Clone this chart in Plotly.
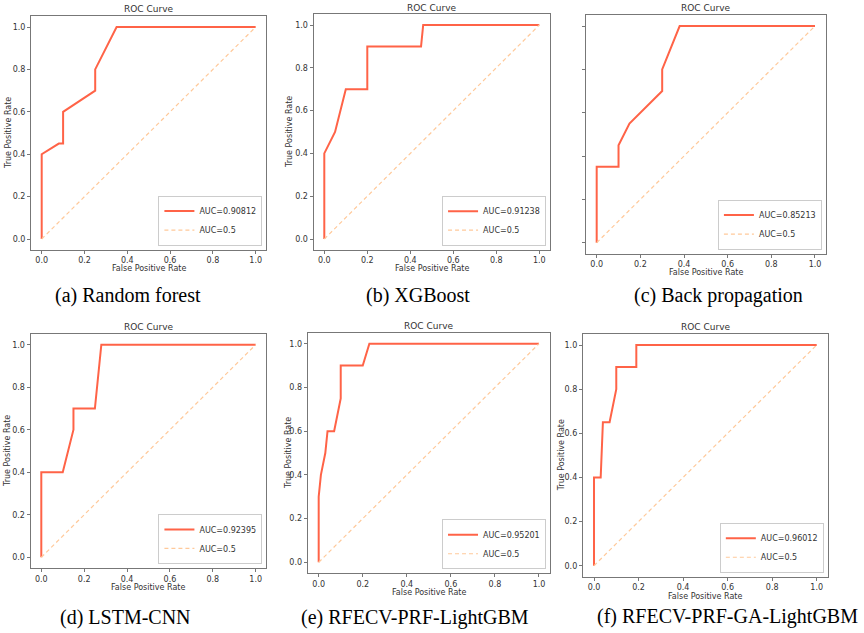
import plotly.graph_objects as go

W, H = 864, 633

# ---- data ----
models = ["Random forest", "XGBoost", "Back propagation", "LSTM-CNN",
          "RFECV-PRF-LightGBM", "RFECV-PRF-GA-LightGBM"]
letters = ["a", "b", "c", "d", "e", "f"]
auc_values = ["0.90812", "0.91238", "0.85213", "0.92395", "0.95201", "0.96012"]

fpr_rf = [0, 0, 0.08, 0.10, 0.10, 0.25, 0.25, 0.35, 1.0]
tpr_rf = [0, 0.40, 0.45, 0.45, 0.60, 0.70, 0.80, 1.0, 1.0]

fpr_xgb = [0, 0, 0.05, 0.10, 0.20, 0.20, 0.45, 0.46, 1.0]
tpr_xgb = [0, 0.40, 0.50, 0.70, 0.70, 0.90, 0.90, 1.0, 1.0]

fpr_bp = [0, 0, 0.10, 0.10, 0.15, 0.30, 0.30, 0.38, 1.0]
tpr_bp = [0, 0.35, 0.35, 0.45, 0.55, 0.70, 0.80, 1.0, 1.0]

fpr_lc = [0, 0, 0.10, 0.15, 0.15, 0.25, 0.28, 1.0]
tpr_lc = [0, 0.40, 0.40, 0.60, 0.70, 0.70, 1.0, 1.0]

fpr_rl = [0, 0, 0.01, 0.03, 0.04, 0.07, 0.10, 0.10, 0.20, 0.23, 1.0]
tpr_rl = [0, 0.30, 0.40, 0.50, 0.60, 0.60, 0.75, 0.90, 0.90, 1.0, 1.0]

fpr_rgl = [0, 0, 0.03, 0.04, 0.07, 0.10, 0.10, 0.19, 0.19, 1.0]
tpr_rgl = [0, 0.40, 0.40, 0.65, 0.65, 0.80, 0.90, 0.90, 1.0, 1.0]

fpr_list = [fpr_rf, fpr_xgb, fpr_bp, fpr_lc, fpr_rl, fpr_rgl]
tpr_list = [tpr_rf, tpr_xgb, tpr_bp, tpr_lc, tpr_rl, tpr_rgl]

diag_x = [0, 1]
diag_y = [0, 1]
tick_vals = [0.0, 0.2, 0.4, 0.6, 0.8, 1.0]
tick_text = ["0.0", "0.2", "0.4", "0.6", "0.8", "1.0"]

# ---- layout geometry (pixels): x of data 0 / 1, y of data 1 / 0 ----
geom = [
    (41.7, 255.7, 27.0, 239.0),
    (324.3, 539.3, 25.0, 239.0),
    (596.7, 815.0, 26.0, 242.7),
    (41.3, 255.7, 344.7, 557.3),
    (318.7, 539.0, 343.7, 562.3),
    (594.0, 816.7, 345.0, 565.7),
]
title_y = [9, 8, 8, 327, 326, 327]
xlab_y = [268.5, 268.5, 272.5, 587.5, 592.5, 596.5]
ylab_x = [8, 290, None, 8, 289, 561]
cap_pos = [(128, 295), (418, 295), (718, 295), (125, 617), (415, 617), (727, 616)]

FONT = "DejaVu Sans"
ROC_COLOR = "#FF6347"
DIAG_COLOR = "#FFC99A"
TXT = "#333333"
FRAME = "#777777"

def px(x):
    return x / W

def py(y):
    return 1 - y / H

fig = go.Figure()
annotations = []
layout_axes = {}
for i in range(6):
    x0, x1, y1, y0 = geom[i]
    wx = x1 - x0
    hy = y0 - y1
    L, R = x0 - 0.05 * wx, x1 + 0.05 * wx
    T, B = y1 - 0.05 * hy, y0 + 0.05 * hy
    n = "" if i == 0 else str(i + 1)
    xa, ya = "x" + n, "y" + n
    lg = "legend" + n
    fig.add_trace(go.Scatter(x=fpr_list[i], y=tpr_list[i], mode="lines",
                             line=dict(color=ROC_COLOR, width=2),
                             name="AUC=" + auc_values[i], xaxis=xa, yaxis=ya,
                             legend=lg))
    fig.add_trace(go.Scatter(x=diag_x, y=diag_y, mode="lines",
                             line=dict(color=DIAG_COLOR, width=1.2, dash="4px,3px"),
                             name="AUC=0.5", xaxis=xa, yaxis=ya, legend=lg))
    common = dict(range=[-0.05, 1.05], tickvals=tick_vals, ticktext=tick_text,
                  ticks="outside", ticklen=3, tickwidth=1, tickcolor=FRAME,
                  showgrid=False, zeroline=False, showline=True, linecolor=FRAME,
                  linewidth=1, mirror=True,
                  tickfont=dict(family=FONT, size=8, color=TXT))
    layout_axes["xaxis" + n] = dict(common, domain=[px(L), px(R)], anchor=ya)
    yax = dict(common, domain=[py(B), py(T)], anchor=xa)
    if i == 2:
        yax["showticklabels"] = False
    layout_axes["yaxis" + n] = yax
    layout_axes[lg] = dict(x=px(R - 4), y=py(B - 4), xanchor="right", yanchor="bottom",
                           bgcolor="white", bordercolor="#cccccc", borderwidth=1,
                           font=dict(family=FONT, size=8, color=TXT),
                           itemwidth=30, tracegroupgap=0)
    cx = (L + R) / 2
    annotations.append(dict(text="ROC Curve", x=px(cx), y=py(title_y[i]), xref="paper",
                            yref="paper", showarrow=False, xanchor="center", yanchor="middle",
                            font=dict(family=FONT, size=9, color=TXT)))
    annotations.append(dict(text="False Positive Rate", x=px(cx), y=py(xlab_y[i]),
                            xref="paper", yref="paper", showarrow=False,
                            xanchor="center", yanchor="middle",
                            font=dict(family=FONT, size=8, color=TXT)))
    if ylab_x[i] is not None:
        annotations.append(dict(text="True Positive Rate", x=px(ylab_x[i]),
                                y=py((T + B) / 2), xref="paper", yref="paper",
                                showarrow=False, textangle=-90, xanchor="center",
                                yanchor="middle",
                                font=dict(family=FONT, size=8, color=TXT)))
    cxp, cyp = cap_pos[i]
    annotations.append(dict(text="(" + letters[i] + ") " + models[i], x=px(cxp), y=py(cyp),
                            xref="paper", yref="paper", showarrow=False,
                            xanchor="center", yanchor="middle",
                            font=dict(family="Liberation Serif", size=20, color="black")))

fig.update_layout(width=W, height=H, margin=dict(l=0, r=0, t=0, b=0),
                  paper_bgcolor="white", plot_bgcolor="white",
                  annotations=annotations, **layout_axes)
fig.write_html("out.html")
